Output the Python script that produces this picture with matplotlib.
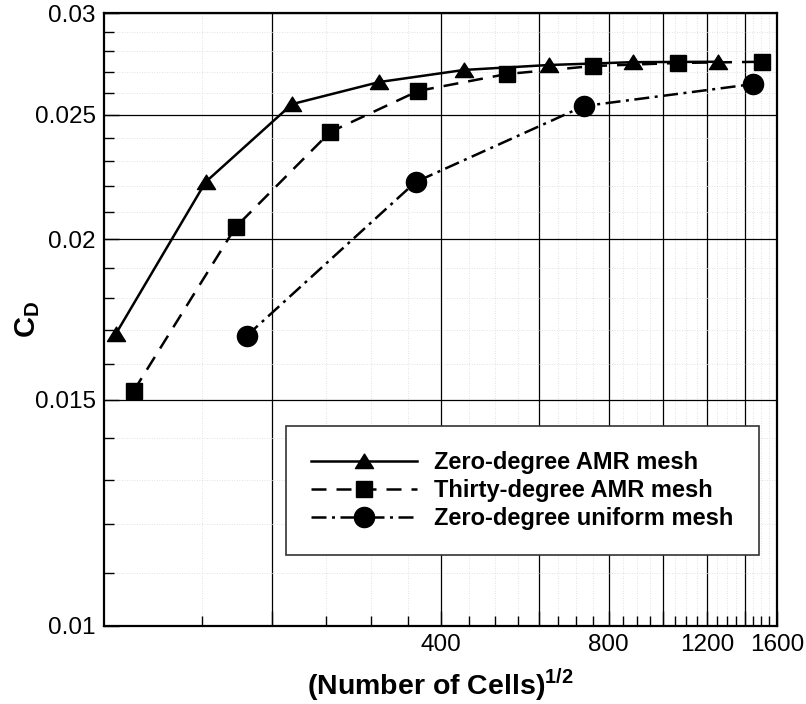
import matplotlib
matplotlib.use('Agg')
import matplotlib.pyplot as plt
from matplotlib.ticker import FixedLocator, FixedFormatter, NullFormatter
from matplotlib.path import Path
import numpy as np

plt.rcParams['font.family'] = ['Liberation Sans', 'DejaVu Sans']
plt.rcParams['mathtext.fontset'] = 'custom'
plt.rcParams['mathtext.rm'] = 'Liberation Sans:bold'
plt.rcParams['mathtext.bf'] = 'Liberation Sans:bold'

# data
cells_zero_amr = [105, 152, 217, 311, 441, 625, 883, 1254]
cd_zero_amr = [0.01688, 0.02216, 0.02548, 0.02651, 0.02709, 0.02733, 0.02747, 0.02749]

cells_thirty_amr = [113, 172, 254, 365, 525, 749, 1064, 1504]
cd_thirty_amr = [0.01524, 0.02044, 0.02424, 0.02609, 0.02689, 0.02728, 0.02743, 0.02749]

cells_zero_uniform = [180, 361, 722, 1449]
cd_zero_uniform = [0.01682, 0.02216, 0.02539, 0.02641]

x_grid = [200, 400, 600, 800, 1000, 1200, 1400, 1600]
x_labels = ['', '400', '', '800', '', '1200', '', '1600']
y_ticks = [0.01, 0.015, 0.02, 0.025, 0.03]
y_labels = ['0.01', '0.015', '0.02', '0.025', '0.03']

fig = plt.figure(figsize=(8.06, 7.04), dpi=100)
ax = fig.add_axes([104/806, 1 - 626/704, 673/806, 613/704])

ax.set_xscale('log')
ax.set_yscale('log')
ax.set_xlim(100, 1600)
ax.set_ylim(0.01, 0.03)

# flat triangle like the original
tri = Path([(-1, -0.78), (1, -0.78), (0, 0.82), (-1, -0.78)],
           [Path.MOVETO, Path.LINETO, Path.LINETO, Path.CLOSEPOLY])

lw = 1.8
ax.plot(cells_zero_amr, cd_zero_amr, color='black', lw=lw, ls='-',
        marker=tri, ms=13, mfc='black', mec='black', zorder=5,
        label='Zero-degree AMR mesh')
ax.plot(cells_thirty_amr, cd_thirty_amr, color='black', lw=lw, ls=(0, (6, 4)),
        marker='s', ms=11.5, mfc='black', mec='black', zorder=5,
        label='Thirty-degree AMR mesh')
ax.plot(cells_zero_uniform, cd_zero_uniform, color='black', lw=lw,
        ls=(0, (6, 2.2, 1.2, 2.2)),
        marker='o', ms=14.5, mfc='black', mec='black', zorder=5,
        label='Zero-degree uniform mesh')

# ticks
ax.xaxis.set_major_locator(FixedLocator(x_grid))
ax.xaxis.set_major_formatter(FixedFormatter(x_labels))
x_minor = [v for v in range(150, 1600, 50) if v not in x_grid]
ax.xaxis.set_minor_locator(FixedLocator(x_minor))
ax.xaxis.set_minor_formatter(NullFormatter())

ax.yaxis.set_major_locator(FixedLocator(y_ticks))
ax.yaxis.set_major_formatter(FixedFormatter(y_labels))
y_minor = [round(0.01 + 0.001 * i, 3) for i in range(1, 20)]
y_minor = [v for v in y_minor if v not in y_ticks]
ax.yaxis.set_minor_locator(FixedLocator(y_minor))
ax.yaxis.set_minor_formatter(NullFormatter())

ax.tick_params(axis='both', which='major', direction='in', labelsize=17.5,
               length=11, width=1, pad=6, top=False, right=False)
ax.tick_params(axis='both', which='minor', direction='in', length=7, width=1,
               top=False, right=False)

# grid
ax.grid(True, which='major', color='black', lw=0.9)
ax.grid(True, which='minor', color='#d8d8d8', lw=0.6, ls=(0, (1, 2)))
ax.set_axisbelow(True)

for sp in ax.spines.values():
    sp.set_linewidth(1.6)
    sp.set_color('black')
    sp.set_zorder(6)

ax.set_xlabel(r'(Number of Cells)$^{1/2}$', fontsize=20.5, fontweight='bold')
ax.xaxis.set_label_coords(0.5, -0.066)
ax.set_ylabel(r'C$_{\mathrm{D}}$', fontsize=21, fontweight='bold')
ax.yaxis.set_label_coords(-0.092, 0.5)

leg = ax.legend(loc='upper left', bbox_to_anchor=(0.270, 0.326),
                borderaxespad=0, fancybox=False, framealpha=1, numpoints=1,
                handlelength=4.5, handletextpad=0.75, labelspacing=0.22,
                borderpad=1.05,
                prop={'family': 'Liberation Sans', 'weight': 'bold', 'size': 17})
leg.get_frame().set_edgecolor('#333333')
leg.get_frame().set_linewidth(1.2)
leg.set_zorder(10)

plt.savefig('out.png', dpi=100)
